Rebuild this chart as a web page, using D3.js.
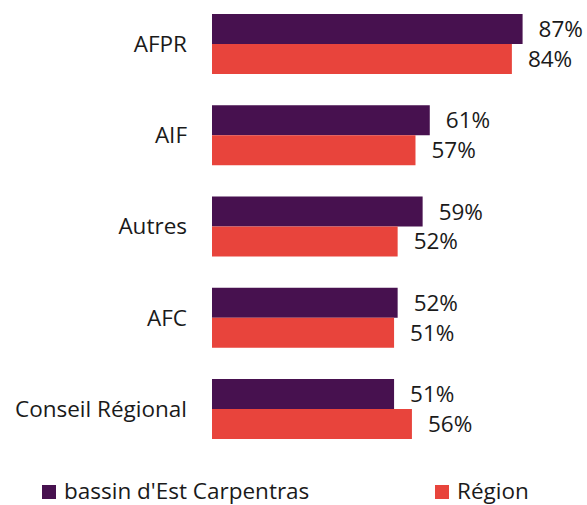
<!DOCTYPE html>
<html>
<head>
<meta charset="utf-8">
<script src="https://cdn.jsdelivr.net/npm/d3@7"></script>
<style>
  body { margin: 0; background: #fff; }
  text { font-family: "Open Sans", Lato, sans-serif; fill: #1a1a1a; }
</style>
</head>
<body>
<svg id="chart"></svg>
<script>
const categories = ["AFPR", "AIF", "Autres", "AFC", "Conseil Régional"];
const seriesNames = ["bassin d'Est Carpentras", "Région"];
const bassinValues = [87, 61, 59, 52, 51];
const regionValues = [84, 57, 52, 51, 56];
const colors = ["#47114f", "#e8443c"];

const width = 587, height = 505;
const svg = d3.select("#chart").attr("width", width).attr("height", height);

const data = categories.map((c, i) => ({ cat: c, vals: [bassinValues[i], regionValues[i]] }));

const x = d3.scaleLinear().domain([0, 100]).range([212, 569]);
const y = d3.scaleBand().domain(categories).range([14, 439]).paddingInner(0.3425);
const ySub = d3.scaleBand().domain([0, 1]).range([0, y.bandwidth()]);

const groups = svg.append("g")
  .selectAll("g")
  .data(data)
  .join("g")
    .attr("transform", d => `translate(0,${y(d.cat)})`);

groups.selectAll("rect")
  .data(d => d.vals)
  .join("rect")
    .attr("x", x(0))
    .attr("y", (v, i) => ySub(i))
    .attr("width", v => x(v) - x(0))
    .attr("height", ySub.bandwidth())
    .attr("fill", (v, i) => colors[i]);

groups.selectAll("text.val")
  .data(d => d.vals)
  .join("text")
    .attr("class", "val")
    .attr("x", v => x(v) + 16)
    .attr("y", (v, i) => ySub(i) + ySub.bandwidth() / 2 + 8)
    .style("font-size", "22.5px")
    .text(v => v + "%");

groups.append("text")
  .attr("x", 187)
  .attr("y", y.bandwidth() / 2 + 8)
  .attr("text-anchor", "end")
  .style("font-size", "22.5px")
  .text(d => d.cat);

// legend
const legendX = [42, 435];
const legend = svg.append("g")
  .selectAll("g")
  .data(seriesNames)
  .join("g")
    .attr("transform", (d, i) => `translate(${legendX[i]},485)`);

legend.append("rect")
  .attr("width", 14)
  .attr("height", 14)
  .attr("fill", (d, i) => colors[i]);

legend.append("text")
  .attr("x", 22)
  .attr("y", 14)
  .style("font-size", "22.5px")
  .text(d => d);
</script>
</body>
</html>
